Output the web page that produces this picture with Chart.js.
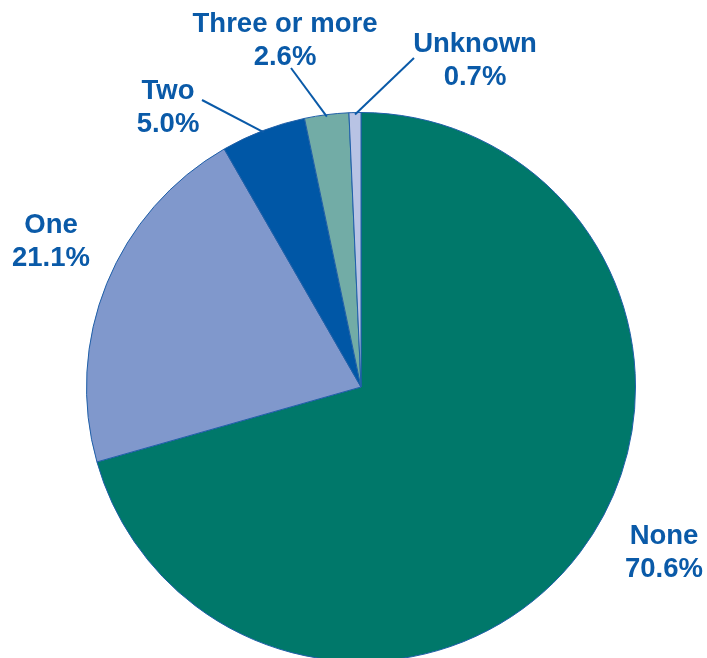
<!DOCTYPE html>
<html>
<head>
<meta charset="utf-8">
<script src="https://cdn.jsdelivr.net/npm/chart.js@4"></script>
<style>
  html, body { margin: 0; padding: 0; background: #fff; overflow: hidden; }
  #wrap { width: 707px; height: 658px; overflow: hidden; }
</style>
</head>
<body>
<div id="wrap"><canvas id="pieChart" width="707" height="664"></canvas></div>
<script>
const categories = ['None', 'One', 'Two', 'Three or more', 'Unknown'];
const shares = [70.6, 21.1, 5.0, 2.6, 0.7];
const sliceColors = ['#00786a', '#8098cc', '#0057a6', '#72aca6', '#b8c3e4'];

const textBlue = '#0a5aa8';

// where each label sits (centre x, first baseline) and, if any, the end of its leader line
const labelSpots = [
    { x: 664, y: 544 },
    { x: 51, y: 233 },
    { x: 168, y: 99, lead: [202, 100] },
    { x: 285, y: 32, lead: [291, 68] },
    { x: 475, y: 52, lead: [414, 58] }
];

const sliceLabels = {
    id: 'sliceLabels',
    afterDraw(chart) {
        const ctx = chart.ctx;
        const arcs = chart.getDatasetMeta(0).data;
        ctx.save();
        ctx.fillStyle = textBlue;
        ctx.strokeStyle = textBlue;
        ctx.lineWidth = 2;
        ctx.font = 'bold 27.5px "Liberation Sans", Arial, sans-serif';
        ctx.textAlign = 'center';
        ctx.textBaseline = 'alphabetic';
        arcs.forEach((arc, i) => {
            const spot = labelSpots[i];
            if (spot.lead) {
                const mid = (arc.startAngle + arc.endAngle) / 2;
                const r = arc.outerRadius - 2;
                ctx.beginPath();
                ctx.moveTo(arc.x + Math.cos(mid) * r, arc.y + Math.sin(mid) * r);
                ctx.lineTo(spot.lead[0], spot.lead[1]);
                ctx.stroke();
            }
            ctx.fillText(categories[i], spot.x, spot.y);
            ctx.fillText(shares[i].toFixed(1) + '%', spot.x, spot.y + 33);
        });
        ctx.restore();
    }
};

new Chart(document.getElementById('pieChart').getContext('2d'), {
    type: 'pie',
    data: {
        labels: categories,
        datasets: [{
            data: shares,
            backgroundColor: sliceColors,
            borderColor: '#1f5fa8',
            borderWidth: 1
        }]
    },
    options: {
        responsive: false,
        animation: false,
        layout: { padding: { top: 112, bottom: 2, left: 86, right: 71 } },
        plugins: {
            legend: { display: false },
            tooltip: { enabled: false }
        }
    },
    plugins: [sliceLabels]
});
</script>
</body>
</html>
